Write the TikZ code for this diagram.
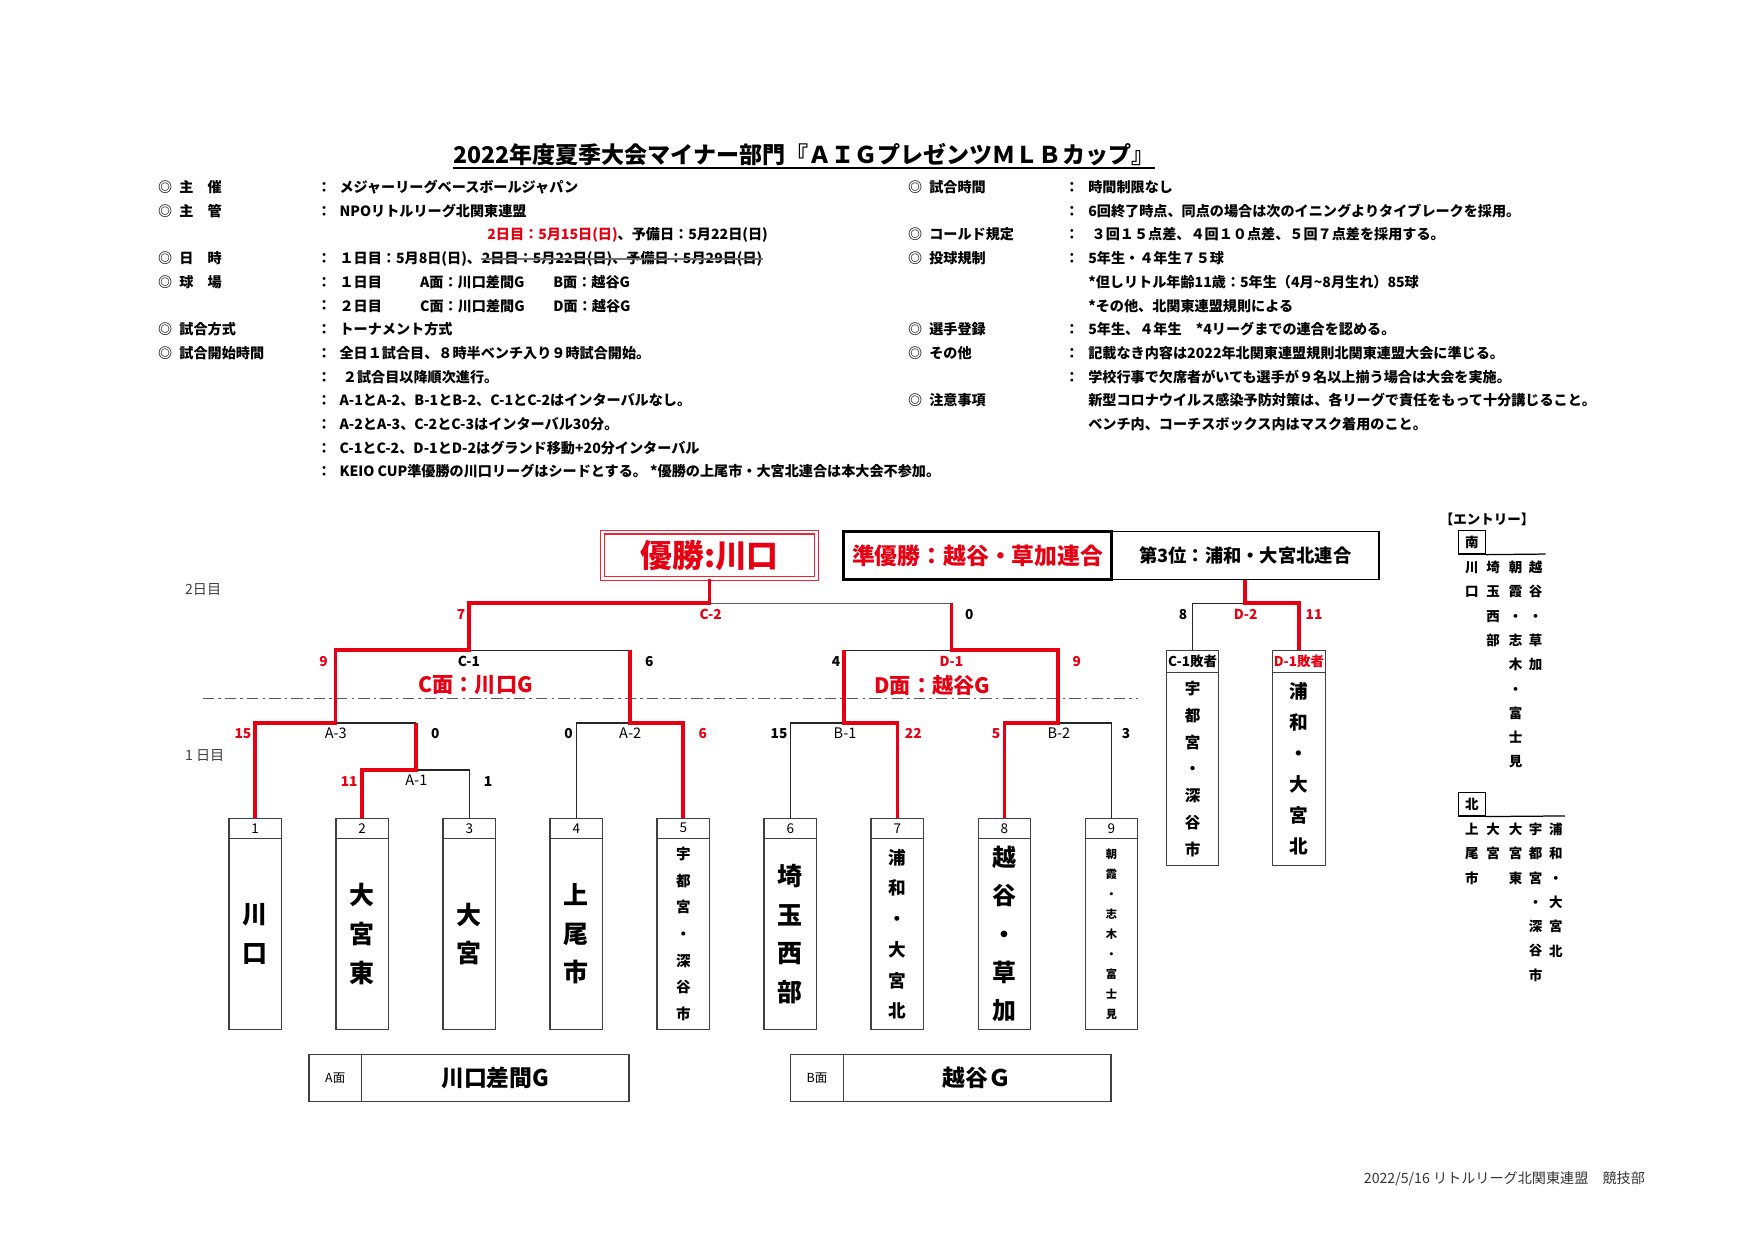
\documentclass[tikz,border=0pt]{standalone}
\usepackage{fontspec}
\setmainfont{Noto Sans CJK JP}
\usepackage{tikz}
\usetikzlibrary{positioning, calc}
\definecolor{winred}{RGB}{230,0,18}
\newcommand{\maru}[1]{◎\hspace{3.4pt}#1}

\begin{document}
\begin{tikzpicture}[
    x=0.18941mm, y=-0.18941mm,
    every node/.style={inner sep=0pt},
    info/.style={anchor=base west, font=\fontsize{6.8}{8}\selectfont\bfseries},
    strikeline/.style={draw=black!55, line width=0.6pt},
    headline/.style={font=\fontsize{11.1}{12}\selectfont\bfseries},
    daylbl/.style={anchor=west, text=black!75, font=\fontsize{6.8}{8}\selectfont},
    winpath/.style={draw=winred, line width=1.8pt},
    losepath/.style={draw=black!85, line width=0.6pt},
    daysep/.style={draw=black!65, line width=0.9pt,
                   dash pattern=on 5.5pt off 2pt on 1.2pt off 2pt},
    score/.style={font=\fontsize{6.6}{7}\selectfont\bfseries},
    redscore/.style={score, text=winred},
    game/.style={font=\fontsize{7}{8}\selectfont},
    court/.style={font=\fontsize{10.2}{11}\selectfont\bfseries, text=winred},
    tbox/.style={draw=black!75, line width=0.6pt, minimum width=25.3pt},
    numcell/.style={tbox, minimum height=9.7pt, font=\fontsize{6.5}{7}\selectfont},
    namebox/.style={tbox, minimum height=92.1pt, align=center},
    losehead/.style={tbox, minimum height=10.8pt, font=\fontsize{6.5}{7}\selectfont\bfseries},
    losebody/.style={tbox, minimum height=92.7pt, align=center},
    champbox/.style={draw=winred!85, double=white, double distance=1.3pt, line width=0.5pt,
                     minimum width=102.9pt, minimum height=22.2pt, text=winred,
                     font=\fontsize{15.3}{16}\selectfont\bfseries},
    placebox/.style={draw, minimum width=128.8pt, minimum height=23.2pt},
    venuecell/.style={tbox, minimum height=22.6pt, font=\fontsize{6}{7}\selectfont},
    venuename/.style={tbox, minimum width=128.8pt, minimum height=22.6pt,
                      font=\fontsize{11}{12}\selectfont\bfseries},
    entrycol/.style={font=\fontsize{6.5}{11.7}\selectfont\bfseries, align=center},
    areabox/.style={draw, line width=0.6pt, minimum width=12.9pt, minimum height=11.3pt,
                    font=\fontsize{6.5}{7}\selectfont\bfseries},
]
    \path[use as bounding box, fill=white] (0,0) rectangle (1568,1109);

    % Title.
    \node[headline] (title) at (718,138)
        {2022年度夏季大会マイナー部門『ＡＩＧプレゼンツＭＬＢカップ』};
    \draw[line width=0.8pt] ([yshift=-1pt]title.south west) -- ([yshift=-1pt]title.south east);

    % Left column of the rules.
    \node[info] (l0) at (141,172)   {\maru{主　催}};
    \node[info] (l1) at (141,193.2) {\maru{主　管}};
    \node[info] (l3) at (141,235.5) {\maru{日　時}};
    \node[info] (l4) at (141,256.7) {\maru{球　場}};
    \node[info] (l6) at (141,299)   {\maru{試合方式}};
    \node[info] (l7) at (141,320.2) {\maru{試合開始時間}};
    \foreach \r in {0,1,3,4,5,6,7,8,9,10,11,12}
        \node[info] (lc\r) at (283,172+21.17*\r) {：};

    \node[info] (lt0) at (303,172)   {メジャーリーグベースボールジャパン};
    \node[info] (lt1) at (303,193.2) {NPOリトルリーグ北関東連盟};
    \node[info] (lt2) at (435,214.3) {\textcolor{winred}{2日目：5月15日(日)}、予備日：5月22日(日)};
    \node[info] (lt3) at (303,235.5) {１日目：5月8日(日)、};
    \node[info] (old) at (lt3.base east) {2日目：5月22日(日)、予備日：5月29日(日)};
    \draw[strikeline] (old.west) -- (old.east);
    \node[info] (lt4) at (303,256.7) {１日目};
    \node[info] (fa)  at (375,256.7) {A面：川口差間G};
    \node[info] (fb)  at (494,256.7) {B面：越谷G};
    \node[info] (lt5) at (303,277.9) {２日目};
    \node[info] (fc)  at (375,277.9) {C面：川口差間G};
    \node[info] (fd)  at (494,277.9) {D面：越谷G};
    \node[info] (lt6) at (303,299)   {トーナメント方式};
    \node[info] (lt7) at (303,320.2) {全日１試合目、８時半ベンチ入り９時試合開始。};
    \node[info] (lt8) at (306,341.4) {２試合目以降順次進行。};
    \node[info] (lt9) at (303,362.5) {A-1とA-2、B-1とB-2、C-1とC-2はインターバルなし。};
    \node[info] (lt10) at (303,383.7) {A-2とA-3、C-2とC-3はインターバル30分。};
    \node[info] (lt11) at (303,404.9) {C-1とC-2、D-1とD-2はグランド移動+20分インターバル};
    \node[info] (lt12) at (303,426)
        {KEIO CUP準優勝の川口リーグはシードとする。 *優勝の上尾市・大宮北連合は本大会不参加。};

    % Right column of the rules.
    \node[info] (r0) at (811,172)   {\maru{試合時間}};
    \node[info] (r2) at (811,214.3) {\maru{コールド規定}};
    \node[info] (r3) at (811,235.5) {\maru{投球規制}};
    \node[info] (r6) at (811,299)   {\maru{選手登録}};
    \node[info] (r7) at (811,320.2) {\maru{その他}};
    \node[info] (r9) at (811,362.5) {\maru{注意事項}};
    \foreach \r in {0,1,2,3,6,7,8}
        \node[info] (rc\r) at (951,172+21.17*\r) {：};

    \node[info] (rt0) at (972,172)   {時間制限なし};
    \node[info] (rt1) at (972,193.2) {6回終了時点、同点の場合は次のイニングよりタイブレークを採用。};
    \node[info] (rt2) at (975,214.3) {３回１５点差、４回１０点差、５回７点差を採用する。};
    \node[info] (rt3) at (972,235.5) {5年生・４年生７５球};
    \node[info] (rt4) at (972,256.7) {*但しリトル年齢11歳：5年生（4月\textasciitilde 8月生れ）85球};
    \node[info] (rt5) at (972,277.9) {*その他、北関東連盟規則による};
    \node[info] (rt6) at (972,299)   {5年生、４年生　*4リーグまでの連合を認める。};
    \node[info] (rt7) at (972,320.2) {記載なき内容は2022年北関東連盟規則北関東連盟大会に準じる。};
    \node[info] (rt8) at (972,341.4) {学校行事で欠席者がいても選手が９名以上揃う場合は大会を実施。};
    \node[info] (rt9) at (972,362.5) {新型コロナウイルス感染予防対策は、各リーグで責任をもって十分講じること。};
    \node[info] (rt10) at (972,383.7) {ベンチ内、コーチスボックス内はマスク着用のこと。};

    % Day labels and the line between the two days.
    \node[daylbl] (day2) at (165,527) {2日目};
    \node[daylbl] (day1) at (165,675) {1 日目};
    \coordinate (sepL) at (181,624);
    \coordinate (sepR) at (1017,624);
    \draw[daysep] (sepL) -- (sepR);

    % Teams.
    \foreach \i/\x/\fs/\ls/\nm in {
        1/228.0/12/18.8/{川\\口},
        2/323.6/12/18.6/{大\\宮\\東},
        3/419.25/12/18.3/{大\\宮},
        4/514.9/12/18.6/{上\\尾\\市},
        5/610.5/7/12.8/{宇\\都\\宮\\・\\深\\谷\\市},
        6/706.1/12/18.5/{埼\\玉\\西\\部},
        7/801.75/8.5/14.8/{浦\\和\\・\\大\\宮\\北},
        8/897.4/11.5/18.5/{越\\谷\\・\\草\\加},
        9/993.0/5.4/9.6/{朝\\霞\\・\\志\\木\\・\\富\\士\\見}} {
        \node[numcell] (n\i) at (\x,740) {\i};
        \node[namebox, font=\fontsize{\fs}{\ls}\selectfont\bfseries] (b\i) at (\x,834.5) {\nm};
    }

    % Final places.
    \node[champbox] (champ) at (634,496) {優勝:川口};
    \node[placebox, line width=1.4pt, text=winred, font=\fontsize{11}{12}\selectfont\bfseries]
        (second) at (873.5,496.5) {準優勝：越谷・草加連合};
    \node[placebox, line width=0.6pt, font=\fontsize{8.8}{10}\selectfont\bfseries]
        (third) at (1112.5,496.5) {第3位：浦和・大宮北連合};

    % Losers of C-1 and D-1.
    \node[losehead] (lh1) at (1065.5,591) {C-1敗者};
    \node[losebody, font=\fontsize{7.5}{12.9}\selectfont\bfseries] (lb1) at (1065.5,687)
        {宇\\都\\宮\\・\\深\\谷\\市};
    \node[losehead, text=winred] (lh2) at (1160.5,591) {D-1敗者};
    \node[losebody, font=\fontsize{9}{14.9}\selectfont\bfseries] (lb2) at (1160.5,687)
        {浦\\和\\・\\大\\宮\\北};

    % Match points.
    \coordinate (a1) at (371.4,688);
    \coordinate (a2) at (562.7,646);
    \coordinate (a3) at (299.7,646);
    \coordinate (b1) at (753.9,646);
    \coordinate (b2) at (945.2,646);
    \coordinate (c1) at (419.25,581);
    \coordinate (d1) at (850,581);
    \coordinate (c2) at (634,539);
    \coordinate (d2) at (1112.5,539);

    % Losing sides.
    \draw[losepath] (n3.north) |- (a1);
    \draw[losepath] (a3) -- (a3 -| a1);
    \draw[losepath] (n4.north) |- (a2);
    \draw[losepath] (c1) -- (c1 -| a2);
    \draw[losepath, draw=black!65] (c2) -- (c2 -| d1);
    \draw[losepath] (n6.north) |- (b1);
    \draw[losepath] (n9.north) |- (b2);
    \draw[losepath] (d1) -- (d1 -| b1);
    \draw[losepath] (d2) -| (lh1.north);

    % Winning sides.
    \draw[winpath] (n1.north) |- (a3) |- (c1) |- (c2) -- (champ.south);
    \draw[winpath] (n2.north) |- (a1) -- (a1 |- a3);
    \draw[winpath] (n5.north) |- (a2) -- (a2 |- c1);
    \draw[winpath] (n7.north) |- (b1) -- (b1 |- d1);
    \draw[winpath] (n8.north) |- (b2) |- (d1) -- (d1 |- c2);
    \draw[winpath] (lh2.north) |- (d2) -- (third.south);

    % Scores and game names.
    \node[redscore] (c2w) at (412,549) {7};
    \node[redscore] (gc2) at (635,549) {C-2};
    \node[score]    (c2s) at (866,549) {0};
    \node[redscore] (c1w) at (289,591) {9};
    \node[score]    (gc1) at (419,591) {C-1};
    \node[score]    (c1s) at (580,591) {6};
    \node[score]    (d1s) at (747,591) {4};
    \node[redscore] (gd1) at (850,591) {D-1};
    \node[redscore] (d1w) at (962,591) {9};
    \node[redscore] (a3w) at (217,655) {15};
    \node[game]     (ga3) at (300,655) {A-3};
    \node[score]    (a3s) at (389,655) {0};
    \node[redscore] (a1w) at (312,698) {11};
    \node[game]     (ga1) at (372,697) {A-1};
    \node[score]    (a1s) at (436,698) {1};
    \node[score]    (a2s) at (508,655) {0};
    \node[game]     (ga2) at (563,655) {A-2};
    \node[redscore] (a2w) at (628,655) {6};
    \node[score]    (b1s) at (696,655) {15};
    \node[game]     (gb1) at (755,655) {B-1};
    \node[redscore] (b1w) at (816,655) {22};
    \node[redscore] (b2w) at (890,655) {5};
    \node[game]     (gb2) at (946,655) {B-2};
    \node[score]    (b2s) at (1006,655) {3};
    \node[score]    (d2s) at (1057,549) {8};
    \node[redscore] (gd2) at (1113,549) {D-2};
    \node[redscore] (d2w) at (1174,549) {11};

    \node[court] (courtC) at (425,612) {C面：川口G};
    \node[court] (courtD) at (833,612) {D面：越谷G};

    % Fields of day one.
    \node[venuecell] (va)     at (299.5,963) {A面};
    \node[venuename] (vaname) at (442.5,963) {川口差間G};
    \node[venuecell] (vb)     at (730,963)   {B面};
    \node[venuename] (vbname) at (873,963)   {越谷Ｇ};

    % Entry list.
    \node[entrycol, anchor=west] (entries) at (1286,464) {【エントリー】};
    \node[areabox] (areaS) at (1315,484.5) {南};
    \coordinate (areaSend) at (1381,495);
    \draw[line width=0.6pt] (areaS.south east) -- (areaSend);
    \node[entrycol] (s1) at (1315,517.9) {川\\口};
    \node[entrycol] (s2) at (1334,539.6) {埼\\玉\\西\\部};
    \node[entrycol] (s3) at (1354,593.8) {朝\\霞\\・\\志\\木\\・\\富\\士\\見};
    \node[entrycol] (s4) at (1372,550.4) {越\\谷\\・\\草\\加};

    \node[areabox] (areaN) at (1315,718.5) {北};
    \coordinate (areaNend) at (1398,729);
    \draw[line width=0.6pt] (areaN.south east) -- (areaNend);
    \node[entrycol] (e1) at (1315,762.7) {上\\尾\\市};
    \node[entrycol] (e2) at (1334,751.9) {大\\宮};
    \node[entrycol] (e3) at (1354,762.7) {大\\宮\\東};
    \node[entrycol] (e4) at (1372,806.1) {宇\\都\\宮\\・\\深\\谷\\市};
    \node[entrycol] (e5) at (1390,795.3) {浦\\和\\・\\大\\宮\\北};

    % Footer.
    \node[anchor=east, text=black!80, font=\fontsize{6.8}{8}\selectfont] (foot) at (1470,1053)
        {2022/5/16 リトルリーグ北関東連盟　競技部};
\end{tikzpicture}
\end{document}
